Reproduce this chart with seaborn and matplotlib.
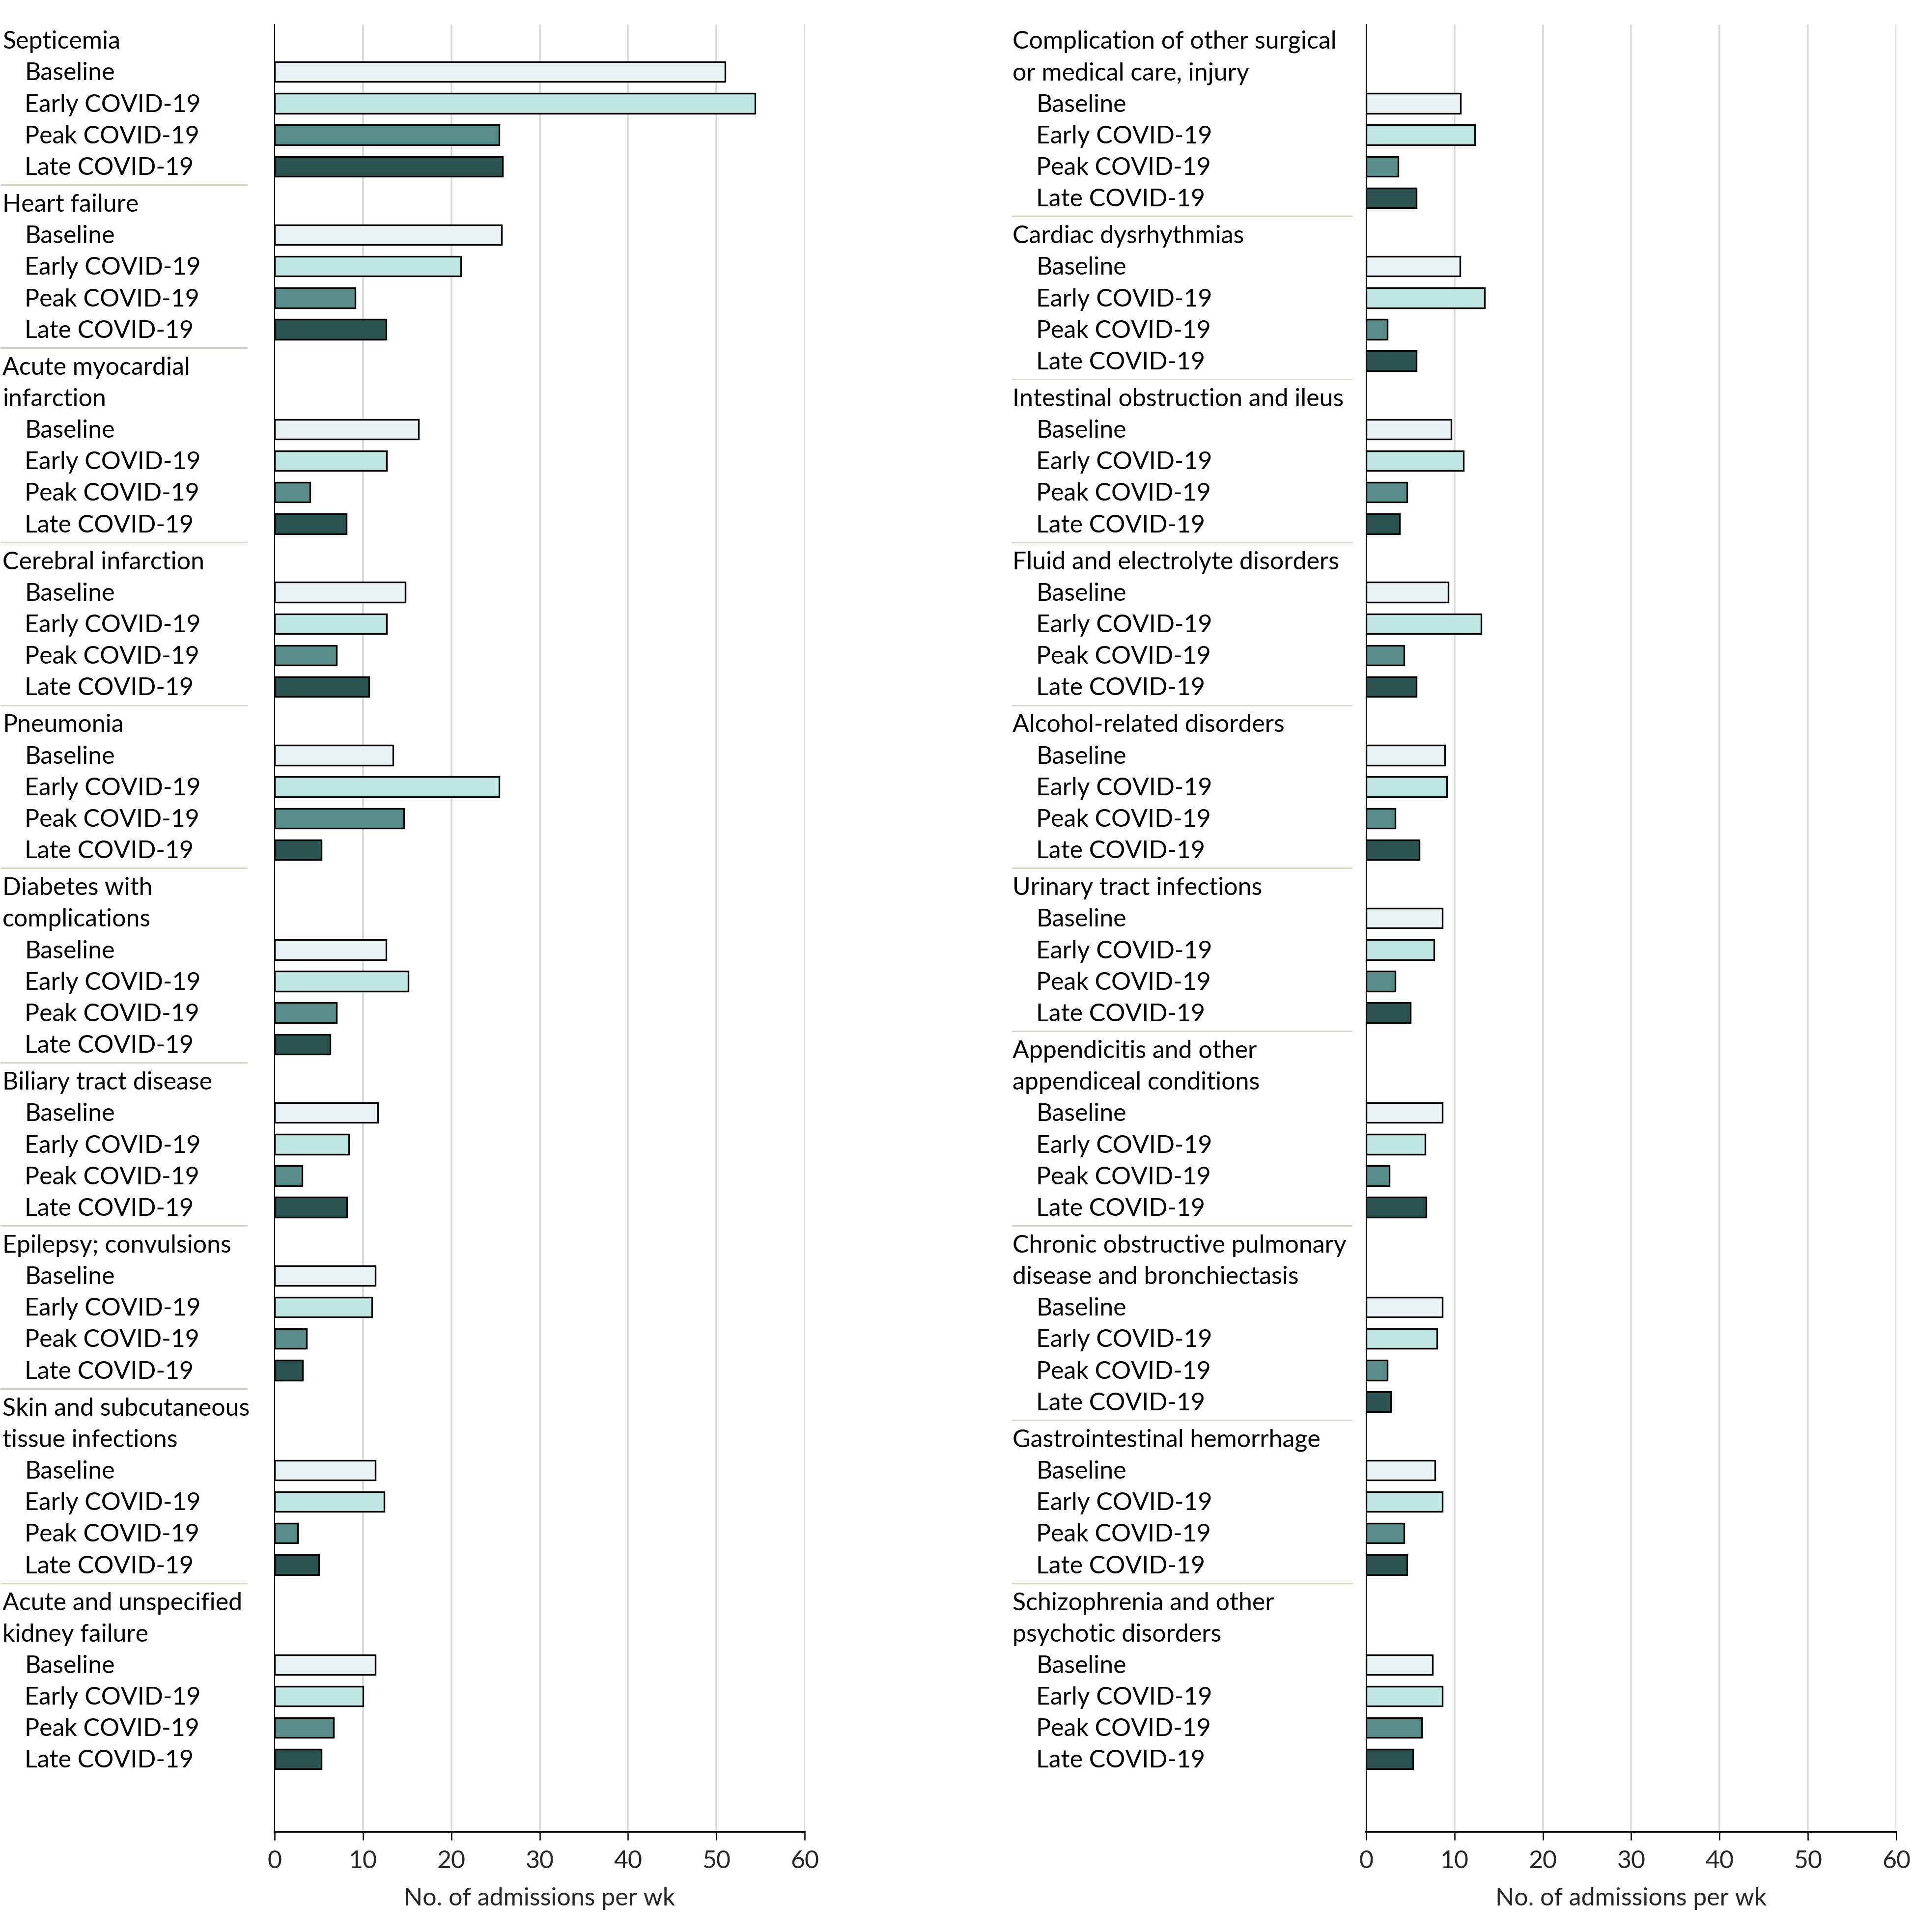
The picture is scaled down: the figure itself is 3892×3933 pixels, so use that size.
import numpy as np
import pandas as pd
import matplotlib
matplotlib.use("Agg")
import matplotlib.pyplot as plt
import matplotlib.transforms as mtransforms
from matplotlib.lines import Line2D
import seaborn as sns

# ── data ──────────────────────────────────────────────────────────────────────
periods = ["Baseline", "Early COVID-19", "Peak COVID-19", "Late COVID-19"]
period_colors = ["#eaf3f3", "#c0e6e4", "#588d8a", "#2a5352"]

left_categories = [
    "Septicemia", "Heart failure", "Acute myocardial\ninfarction",
    "Cerebral infarction", "Pneumonia", "Diabetes with\ncomplications",
    "Biliary tract disease", "Epilepsy; convulsions",
    "Skin and subcutaneous\ntissue infections",
    "Acute and unspecified\nkidney failure",
]
left_baseline = [51.0, 25.7, 16.3, 14.8, 13.4, 12.6, 11.7, 11.4, 11.4, 11.4]
left_early    = [54.4, 21.1, 12.7, 12.7, 25.4, 15.1, 8.4, 11.0, 12.4, 10.0]
left_peak     = [25.4, 9.1, 4.0, 7.0, 14.6, 7.0, 3.1, 3.6, 2.6, 6.7]
left_late     = [25.8, 12.6, 8.1, 10.7, 5.3, 6.3, 8.2, 3.2, 5.0, 5.3]

right_categories = [
    "Complication of other surgical\nor medical care, injury",
    "Cardiac dysrhythmias", "Intestinal obstruction and ileus",
    "Fluid and electrolyte disorders", "Alcohol-related disorders",
    "Urinary tract infections", "Appendicitis and other\nappendiceal conditions",
    "Chronic obstructive pulmonary\ndisease and bronchiectasis",
    "Gastrointestinal hemorrhage",
    "Schizophrenia and other\npsychotic disorders",
]
right_baseline = [10.7, 10.6, 9.6, 9.3, 8.9, 8.6, 8.6, 8.6, 7.8, 7.5]
right_early    = [12.3, 13.4, 11.0, 13.0, 9.1, 7.7, 6.7, 8.0, 8.6, 8.6]
right_peak     = [3.6, 2.4, 4.6, 4.3, 3.3, 3.3, 2.6, 2.4, 4.3, 6.3]
right_late     = [5.7, 5.7, 3.8, 5.7, 6.0, 5.0, 6.8, 2.8, 4.6, 5.3]

GROUP_GAP = 0.17   # extra space between condition groups (in rows)


def build_rows(categories, series):
    """Return bar table + header/label positions for one panel."""
    rows, headers, sublabels, seps = [], [], [], []
    pos = 0.0
    for i, cat in enumerate(categories):
        for line in cat.split("\n"):
            headers.append((pos, line))
            pos += 1
        for p, vals in zip(periods, series):
            rows.append({"category": cat, "period": p, "value": vals[i], "pos": pos})
            sublabels.append((pos, p))
            pos += 1
        if i < len(categories) - 1:
            seps.append(pos - 0.5 + GROUP_GAP / 2)
        pos += GROUP_GAP
    return pd.DataFrame(rows), headers, sublabels, seps, pos - 1 - GROUP_GAP


sns.set_theme(style="white")
plt.rcParams["font.family"] = ["Lato", "DejaVu Sans"]
FS = 12.0

fig = plt.figure(figsize=(3892 / 300, 3933 / 300), dpi=300)
panels = [
    (left_categories, [left_baseline, left_early, left_peak, left_late],
     [0.1436, 0.0519, 0.2773, 0.9354], 0.0013, 0.0129, (0.0006, 0.1289)),
    (right_categories, [right_baseline, right_early, right_peak, right_late],
     [0.7145, 0.0519, 0.2773, 0.9354], 0.5296, 0.5419, (0.5296, 0.7068)),
]

for cats, series, rect, hx, sx, (sep0, sep1) in panels:
    df, headers, sublabels, seps, last = build_rows(cats, series)
    ax = fig.add_axes(rect)
    sns.barplot(data=df, x="value", y="pos", hue="period", hue_order=periods,
                palette=period_colors, saturation=1, orient="h", native_scale=True,
                dodge=False, width=0.63, errorbar=None, edgecolor="black",
                linewidth=0.8, legend=False, ax=ax, zorder=3)
    ax.set_xlim(0, 60)
    ax.set_ylim(last + 2.3, -0.5)
    ax.set_xticks(range(0, 61, 10))
    ax.set_yticks([])
    ax.set_ylabel("")
    ax.set_xlabel("No. of admissions per wk", fontsize=FS, labelpad=7)
    ax.tick_params(axis="x", direction="out", length=4, width=0.6,
                   labelsize=FS, pad=5, bottom=True, color="black")
    ax.grid(False)
    for x in range(10, 61, 10):
        ax.axvline(x, color="#d9d9d9", linewidth=0.85, zorder=0)
    for s in ["top", "right"]:
        ax.spines[s].set_visible(False)
    ax.spines["left"].set_color("black")
    ax.spines["left"].set_linewidth(0.5)
    ax.spines["bottom"].set_color("black")
    ax.spines["bottom"].set_linewidth(0.9)

    trans = mtransforms.blended_transform_factory(fig.transFigure, ax.transData)
    for y, txt in headers:
        ax.text(hx, y + 0.05, txt, transform=trans, ha="left", va="center",
                fontsize=FS, color="black", clip_on=False)
    for y, txt in sublabels:
        ax.text(sx, y + 0.05, txt, transform=trans, ha="left", va="center",
                fontsize=FS, color="black", clip_on=False)
    for y in seps:
        fig.add_artist(Line2D([sep0, sep1], [y, y], transform=trans,
                              color="#d3d3c6", linewidth=0.8))

fig.savefig("out.png", dpi=300)
